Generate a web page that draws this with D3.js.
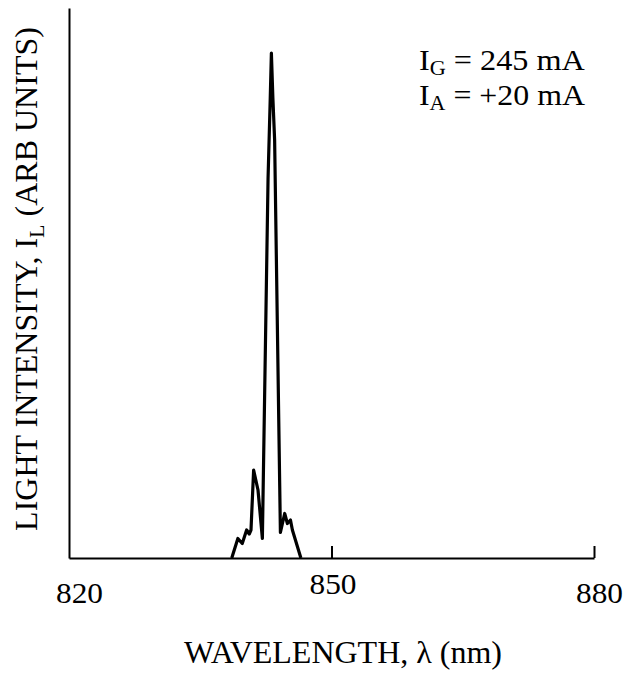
<!DOCTYPE html>
<html>
<head>
<meta charset="utf-8">
<script src="https://cdn.jsdelivr.net/npm/d3@7"></script>
<style>
  body { margin: 0; background: #fff; }
  svg { display: block; font-family: "Liberation Serif", "DejaVu Serif", serif; }
</style>
</head>
<body>
<div class="container"></div>
<script>
// spectrum
const wavelength = [838.6, 839.3, 839.8, 840.3, 840.6, 840.8, 841.1, 841.6, 842.1, 842.75, 843.0, 843.13, 843.3, 843.5, 844.16, 844.65, 844.96, 845.31, 845.53, 846.5];
const intensity  = [0, 3.9, 2.9, 5.6, 4.8, 5.6, 17.6, 13.6, 3.9, 76, 92, 101, 92, 83.6, 5.1, 8.9, 6.9, 7.6, 5.6, 0];
const xTicks = [820, 850, 880];

const width = 627;
const height = 674;
const plotLeft = 69, plotRight = 594, plotTop = 8, plotBottom = 558;

const svg = d3.select('.container')
  .append('svg')
  .attr('width', width)
  .attr('height', height);

const xScale = d3.scaleLinear().domain([820, 880]).range([plotLeft, plotRight]);
const yScale = d3.scaleLinear().domain([0, 110]).range([plotBottom, plotTop]);

// x axis, ticks point inward
const xAxis = d3.axisBottom(xScale).tickValues(xTicks).tickSizeInner(-12).tickSizeOuter(0).tickPadding(24);
const gx = svg.append('g')
  .attr('transform', `translate(0, ${plotBottom})`)
  .call(xAxis);
gx.select('.domain').attr('stroke', '#000').attr('stroke-width', 2);
gx.selectAll('.tick line').attr('stroke', '#000').attr('stroke-width', 2)
  .attr('display', d => d === 820 ? 'none' : null);
gx.selectAll('.tick text')
  .attr('font-size', 30)
  .attr('font-family', '"Liberation Serif", serif')
  .attr('fill', '#000')
  .attr('textLength', 47)
  .attr('lengthAdjust', 'spacingAndGlyphs')
  .attr('dx', d => d === 820 ? 10 : (d === 880 ? 5 : 1))
  .attr('dy', d => d === 850 ? '0.4em' : '0.7em');

// y axis, no ticks
const yAxis = d3.axisLeft(yScale).tickValues([]).tickSizeOuter(0);
const gy = svg.append('g')
  .attr('transform', `translate(${plotLeft}, 0)`)
  .call(yAxis);
gy.select('.domain').attr('stroke', '#000').attr('stroke-width', 2);

// spectrum line
const pts = wavelength.map((w, i) => [w, intensity[i]]);
const line = d3.line().x(d => xScale(d[0])).y(d => yScale(d[1]));
svg.append('path')
  .datum(pts)
  .attr('d', line)
  .attr('fill', 'none')
  .attr('stroke', '#000')
  .attr('stroke-width', 3.2)
  .attr('stroke-linejoin', 'round');

// annotation
function currentLabel(y, sub, rest) {
  const t = svg.append('text').attr('font-size', 29).attr('fill', '#000');
  t.append('tspan').attr('x', 419).attr('y', y).text('I');
  t.append('tspan').attr('font-size', 20).attr('dy', 5).text(sub);
  t.append('tspan').attr('dy', -5).text(rest);
  const w = t.node().getComputedTextLength();
  t.attr('transform', `translate(419, 0) scale(${166 / w}, 1) translate(-419, 0)`);
}
currentLabel(70, 'G', ' = 245 mA');
currentLabel(105, 'A', ' = +20 mA');

// x axis label
svg.append('text')
  .attr('x', 343)
  .attr('y', 663)
  .attr('text-anchor', 'middle')
  .attr('font-size', 32)
  .attr('fill', '#000')
  .text('WAVELENGTH, λ (nm)');

// y axis label
const yl = svg.append('text')
  .attr('transform', 'translate(37, 279) rotate(-90)')
  .attr('text-anchor', 'middle')
  .attr('font-size', 32)
  .attr('fill', '#000');
yl.append('tspan').text('LIGHT INTENSITY, I');
yl.append('tspan').attr('font-size', 22).attr('dy', 7).text('L');
yl.append('tspan').attr('dy', -7).text(' (ARB UNITS)');
</script>
</body>
</html>
